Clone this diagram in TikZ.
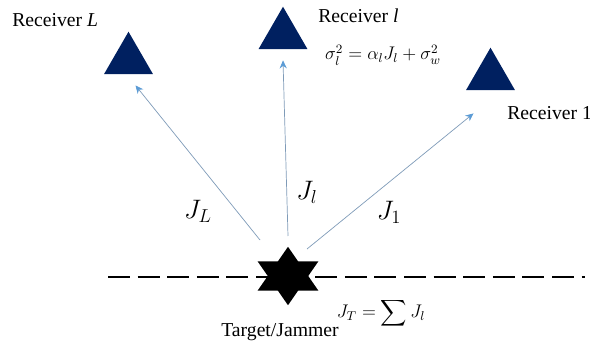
\RequirePackage{fix-cm}
\documentclass[tikz,border=0pt]{standalone}
\usepackage{amsmath,amssymb}
\usepackage{fontspec}
\setmainfont{Liberation Serif}
\usetikzlibrary{arrows.meta,shapes.geometric}
\definecolor{cRecv}{HTML}{002060}
\definecolor{cLink}{HTML}{7F9BB8}
\definecolor{cTip} {HTML}{5B9BD5}
\tikzset{
  recv/.style ={regular polygon,regular polygon sides=3,fill=cRecv,inner sep=0pt,
                minimum size=40mm/2.83},
  jam/.style  ={star,star points=6,star point ratio=1.732,fill=black,inner sep=0pt,
                minimum size=14.6mm,xscale=1.2,transform shape},
  sig/.style  ={-{Stealth[length=2mm,width=1.8mm,color=cTip]},draw=cLink,line width=0.5pt},
  lbl/.style  ={font=\fontsize{14pt}{16pt}\selectfont,inner sep=0pt},
  eqn/.style  ={inner sep=0pt,font=\fontsize{13pt}{15pt}\selectfont},
  bigj/.style ={inner sep=0pt,font=\fontsize{19pt}{22pt}\selectfont},
  ground/.style={draw=black,line width=2pt,dash pattern=on 5.5mm off 1.9mm},
}
\begin{document}
\begin{tikzpicture}[x=0.25mm, y=0.25mm]
\useasboundingbox (0,0) rectangle (590,-345);

% --- baseline behind the target ---
\coordinate (gl) at (108,-277);
\coordinate (gr) at (585,-277);
\draw[ground] (gl) -- (gr);

% --- receivers ---
\node[recv] (rxL) at (128.5,-60) {};
\node[recv] (rxl) at (283,-35) {};
\node[recv] (rx1) at (490.5,-76) {};
\node[jam]  (tj)  at (288,-276) {};

\node[lbl,anchor=west] at (12,-20)  (nameL) {Receiver \textit{L}};
\node[lbl,anchor=west] at (318,-16) (namel) {Receiver \textit{l}};
\node[lbl,anchor=west] at (507,-113) (name1) {Receiver 1};
\node[lbl] at (280,-332) (nametj) {Target/Jammer};

% --- links, clear of both ends ---
\draw[sig] ([shift={(-28,36)}]tj.center) -- ([shift={(7,-11)}]rxL.south);
\draw[sig] ([shift={(0,40)}]tj.center)   -- ([shift={(0,-11)}]rxl.south);
\draw[sig] ([shift={(19,27)}]tj.center)  -- ([shift={(-17,-23)}]rx1.south);

\node[bigj] (jL) at (198,-211) {$J_L$};
\node[bigj] (jl) at (307,-192) {$J_l$};
\node[bigj] (j1) at (389,-212) {$J_1$};
\node[eqn] (noise) at (383,-55) {$\sigma_l^2=\alpha_l J_l+\sigma_w^2$};
\node[eqn] (jsum) at (381,-313) {$J_T=\displaystyle\sum J_l$};

\end{tikzpicture}
\end{document}
